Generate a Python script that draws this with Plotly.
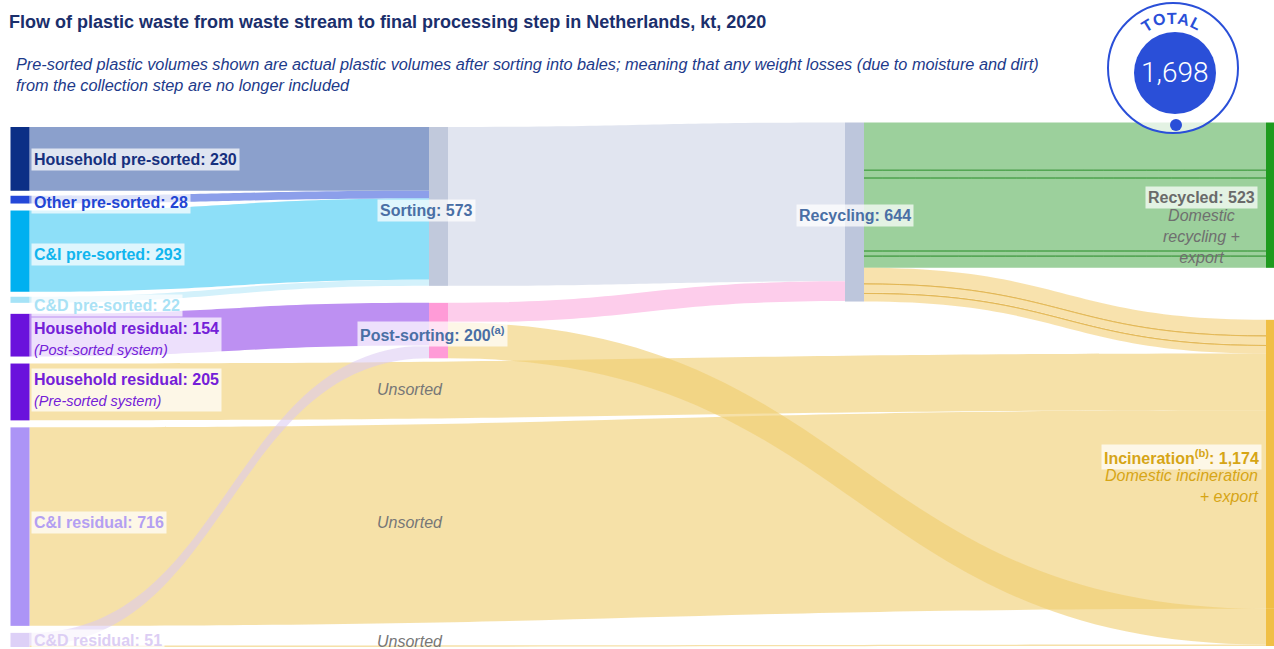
import math
import plotly.graph_objects as go

# ---------------- data ----------------
stream_labels = ["Household pre-sorted", "Other pre-sorted", "C&I pre-sorted", "C&D pre-sorted",
                 "Household residual", "Household residual", "C&I residual", "C&D residual"]
stream_values = [230, 28, 293, 22, 154, 205, 716, 51]
stream_notes = ["", "", "", "", "(Post-sorted system)", "(Pre-sorted system)", "", ""]

sorting_total = 573
post_sorting_total = 200
recycling_total = 644
recycled_total = 523
incineration_total = 1174
grand_total = 1698

cd_residual_to_post_sorting = 46
cd_residual_unsorted = 5
post_sorting_to_recycling = 71
post_sorting_to_incineration = 129
recycled_by_stream = [172, 28, 263, 18, 42]      # HH, other, C&I, C&D, post-sorted
recycling_rejects_by_stream = [58, 30, 4, 29]    # HH, C&I, C&D, post-sorted

# ---------------- styling ----------------
SEP = 0.3   # hair-line separator band drawn between sub-flows (style only)
green_separator_after = [0, 1, 2, 3]   # draw a hair line after these recycled sub-flows
reject_separator_after = [0, 2]

# ---------------- node indices ----------------
HHP, OTP, CIP, CDP, HHR1, HHR2, CIR, CDR = range(8)
SORT, POST, RECY, RCYD, INCA, INCB = 8, 9, 10, 11, 12, 13
N_NODES = 14

YEL = "rgba(240,205,110,0.6)"
links = []  # (source, target, value, color)
links.append((HHP, SORT, stream_values[HHP], "#8ba0cc"))
links.append((OTP, SORT, stream_values[OTP], "#8c9fea"))
links.append((CIP, SORT, stream_values[CIP], "#8ddff8"))
links.append((CDP, SORT, stream_values[CDP], "#d3f1fb"))
links.append((HHR2, INCA, stream_values[HHR2], YEL))
links.append((CIR, INCA, stream_values[CIR], YEL))
links.append((CDR, INCB, cd_residual_unsorted, YEL))
links.append((SORT, RECY, sorting_total, "#e1e5f0"))
for i, v in enumerate(recycled_by_stream):
    links.append((RECY, RCYD, v, "rgba(75,170,75,0.55)"))
    if i in green_separator_after:
        links.append((RECY, RCYD, SEP, "rgba(55,145,55,0.75)"))
for i, v in enumerate(recycling_rejects_by_stream):
    links.append((RECY, INCA, v, "rgba(243,203,105,0.55)"))
    if i in reject_separator_after:
        links.append((RECY, INCA, SEP, "rgba(220,175,75,0.8)"))
links.append((POST, RECY, post_sorting_to_recycling, "#fdcdeb"))
links.append((HHR1, POST, stream_values[HHR1], "#bd90f2"))
links.append((POST, INCB, post_sorting_to_incineration, YEL))
links.append((CDR, POST, cd_residual_to_post_sorting, "rgba(218,200,242,0.55)"))

node_colors = ["#0b2f86", "#2448d8", "#00b0f0", "#a6e3f7", "#6a12dc", "#6a12dc", "#ac94f6", "#ddd0f7",
               "#c1c9dc", "#ff9bd7", "#bdc6dc", "#1e9b1e", "#f0bf45", "#f0bf45"]

# ---------------- layout of the sankey ----------------
W, H = 1274, 649
TOP_PX = 122
PLOT_H = H - TOP_PX
PAD = 8
THICK = 19
ky = (PLOT_H - 7 * PAD) / sum(stream_values)

inn = [0.0] * N_NODES
out = [0.0] * N_NODES
for s, t, v, _ in links:
    out[s] += v
    inn[t] += v
node_val = [max(inn[i], out[i]) for i in range(N_NODES)]

col_x_px = [20, 438.5, 854.5, 1275.5]
columns = [
    [(HHP, 5), (OTP, 5), (CIP, 7), (CDP, 5), (HHR1, 11), (HHR2, 7), (CIR, 7), (CDR, 7)],
    [(SORT, 5), (POST, 17)],
    [(RECY, 0.5)],
    [(RCYD, 0.5), (INCA, 52), (INCB, 0)],
]
node_x = [0.5] * N_NODES
node_y = [0.5] * N_NODES
for ci, col in enumerate(columns):
    yy = 0.0
    for n, gap in col:
        yy += gap
        h = node_val[n] * ky
        node_x[n] = col_x_px[ci] / W
        node_y[n] = (yy + h / 2) / PLOT_H
        yy += h

fig = go.Figure(go.Sankey(
    arrangement="fixed",
    domain=dict(x=[0, 1], y=[0, 1 - TOP_PX / H]),
    node=dict(
        label=[""] * N_NODES,
        color=node_colors,
        x=node_x, y=node_y,
        pad=PAD, thickness=THICK,
        line=dict(width=0, color="rgba(0,0,0,0)"),
        hoverinfo="none",
    ),
    link=dict(
        source=[l[0] for l in links],
        target=[l[1] for l in links],
        value=[l[2] for l in links],
        color=[l[3] for l in links],
        line=dict(color="rgba(0,0,0,0)", width=0),
        hoverinfo="none",
    ),
))

FONT = "Liberation Sans, Arial, sans-serif"


def txt(text, x, y, color, size=16, xanchor="left", align="left", bg=None, family=FONT, angle=0, weight=None):
    f = dict(color=color, size=size, family=family)
    if weight:
        f["weight"] = weight
    fig.add_annotation(x=x / W, y=1 - y / H, xref="paper", yref="paper", text=text, showarrow=False,
                       xanchor=xanchor, yanchor="middle", align=align, textangle=angle,
                       font=f, bgcolor=bg if bg else "rgba(0,0,0,0)", borderpad=2)


BG = "rgba(255,255,255,0.72)"
# title & subtitle
txt("<b>Flow of plastic waste from waste stream to final processing step in Netherlands, kt, 2020</b>",
    6, 22, "#1b2f6c", size=18)
txt("<i>Pre-sorted plastic volumes shown are actual plastic volumes after sorting into bales; meaning that any weight losses (due to moisture and dirt)<br>"
    "from the collection step are no longer included</i>", 13, 74, "#1d3a8a", size=16.3)

# stream labels
stream_text_colors = ["#16307e", "#2346d4", "#12b5ee", "#a9e2f5", "#7420d8", "#7420d8", "#b49ff2", "#dccef4"]
stream_label_y = [159, 202, 255, 305, 339, 390, 522, 640]
for i, lab in enumerate(stream_labels):
    t = f"<b>{lab}: {stream_values[i]:,}</b>"
    if stream_notes[i]:
        t += f"<br><i><span style='font-size:14.5px'>{stream_notes[i]}</span></i>"
    txt(t, 31, stream_label_y[i], stream_text_colors[i], bg=BG)

STEEL = "#4a6fa5"
txt(f"<b>Sorting: {sorting_total}</b>", 426, 210, STEEL, xanchor="center", bg=BG)
txt(f"<b>Post-sorting: {post_sorting_total}<sup>(a)</sup></b>", 432, 334, STEEL, xanchor="center", bg=BG)
txt(f"<b>Recycling: {recycling_total}</b>", 855, 215, STEEL, xanchor="center", bg=BG)
for yy in [389, 522, 641]:
    txt("<i>Unsorted</i>", 410, yy, "#777777", xanchor="center")

txt(f"<b>Recycled: {recycled_total}</b>", 1258, 197, "#6a6a6a", xanchor="right", bg=BG)
txt("<i>Domestic<br>recycling +<br>export</i>", 1201, 237, "#6f6f6f", xanchor="center", align="center")
GOLD = "#d6a516"
txt(f"<b>Incineration<sup>(b)</sup>: {incineration_total:,}</b>", 1262, 457, GOLD, xanchor="right", bg=BG)
txt("<i>Domestic incineration<br>+ export</i>", 1262, 486, GOLD, xanchor="right", align="right")

# total badge
BLUE = "#2a4fd8"


def circ(cx, cy, r, fill, line_w=0, line_c="rgba(0,0,0,0)"):
    fig.add_shape(type="circle", xref="paper", yref="paper",
                  x0=(cx - r) / W, x1=(cx + r) / W, y0=1 - (cy + r) / H, y1=1 - (cy - r) / H,
                  fillcolor=fill, line=dict(width=line_w, color=line_c), layer="above")


circ(1173, 68, 65, "rgba(255,255,255,0.72)", 2, BLUE)
circ(1175, 73, 41, BLUE)
circ(1176, 125, 6, BLUE)
txt(f"{grand_total:,}", 1175, 73, "white", size=28, xanchor="center",
    family="Roboto, Liberation Sans, sans-serif", weight=300)
for letter, ang in zip("TOTAL", [-31, -16, -1, 13, 27]):
    a = math.radians(ang)
    r = 50
    lx = 1173 + r * math.sin(a)
    ly = 68 - r * math.cos(a)
    txt(f"<b>{letter}</b>", lx, ly, BLUE, size=16, xanchor="center", angle=ang)

fig.update_layout(width=W, height=H, margin=dict(l=0, r=0, t=0, b=0),
                  paper_bgcolor="white", plot_bgcolor="white", font=dict(family=FONT))

fig.write_html("out.html", config={"displayModeBar": False},
               post_script="document.body.style.margin='0px';")
